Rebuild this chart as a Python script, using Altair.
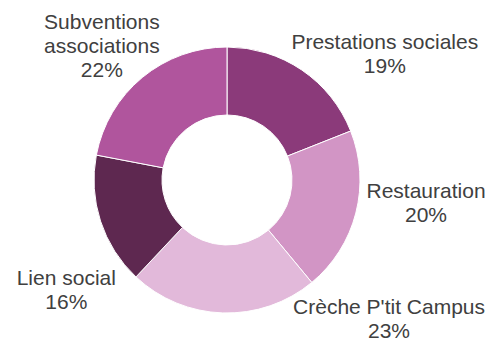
import math
import altair as alt
import pandas as pd

# ---- data ----
categories = ["Prestations sociales", "Restauration", "Crèche P'tit Campus",
              "Lien social", "Subventions associations"]
values = [19, 20, 23, 16, 22]
label_texts = ["Prestations sociales\n19%", "Restauration\n20%",
               "Crèche P'tit Campus\n23%", "Lien social\n16%",
               "Subventions\nassociations\n22%"]
colors = ["#8B3A7A", "#D295C5", "#E2B9DA", "#5E2850", "#B0559D"]

df = pd.DataFrame({
    "category": categories,
    "value": values,
    "label": label_texts,
    "order": list(range(len(categories))),
})

# label nudges (pixels) relative to a radial anchor, like Excel's manual label placement
label_nudge = {
    "Prestations sociales": (51, 26),
    "Restauration": (15, -29),
    "Crèche P'tit Campus": (168, -56),
    "Lien social": (20, 46),
    "Subventions associations": (-4, -5),
}

total = sum(values)
theta_scale = alt.Scale(domain=[0, total], range=[0, 2 * math.pi])

base = alt.Chart(df).transform_window(
    cum="sum(value)", sort=[alt.SortField("order")]
).transform_calculate(
    start="datum.cum - datum.value",
    mid="datum.cum - datum.value / 2",
)

arcs = base.mark_arc(outerRadius=133, innerRadius=65, stroke="white", strokeWidth=1).encode(
    theta=alt.Theta("start:Q", scale=theta_scale),
    theta2="cum:Q",
    color=alt.Color("category:N", scale=alt.Scale(domain=categories, range=colors), legend=None),
)

layers = [arcs]
for cat in categories:
    dx, dy = label_nudge[cat]
    t = base.transform_filter(alt.datum.category == cat).mark_text(
        radius=190, dx=dx, dy=dy, align="center", baseline="alphabetic",
        font="Liberation Sans", fontSize=21, lineHeight=24, color="#404040",
        lineBreak="\n",
    ).encode(
        theta=alt.Theta("mid:Q", scale=theta_scale),
        text="label:N",
    )
    layers.append(t)

chart = alt.layer(*layers).properties(
    width=438, height=316,
    padding={"left": 0, "top": 14, "right": 40, "bottom": 0},
    autosize=alt.AutoSizeParams(type="none"),
).configure_view(stroke=None)

chart.save("out.html", embed_options={"renderer": "svg", "actions": False})
